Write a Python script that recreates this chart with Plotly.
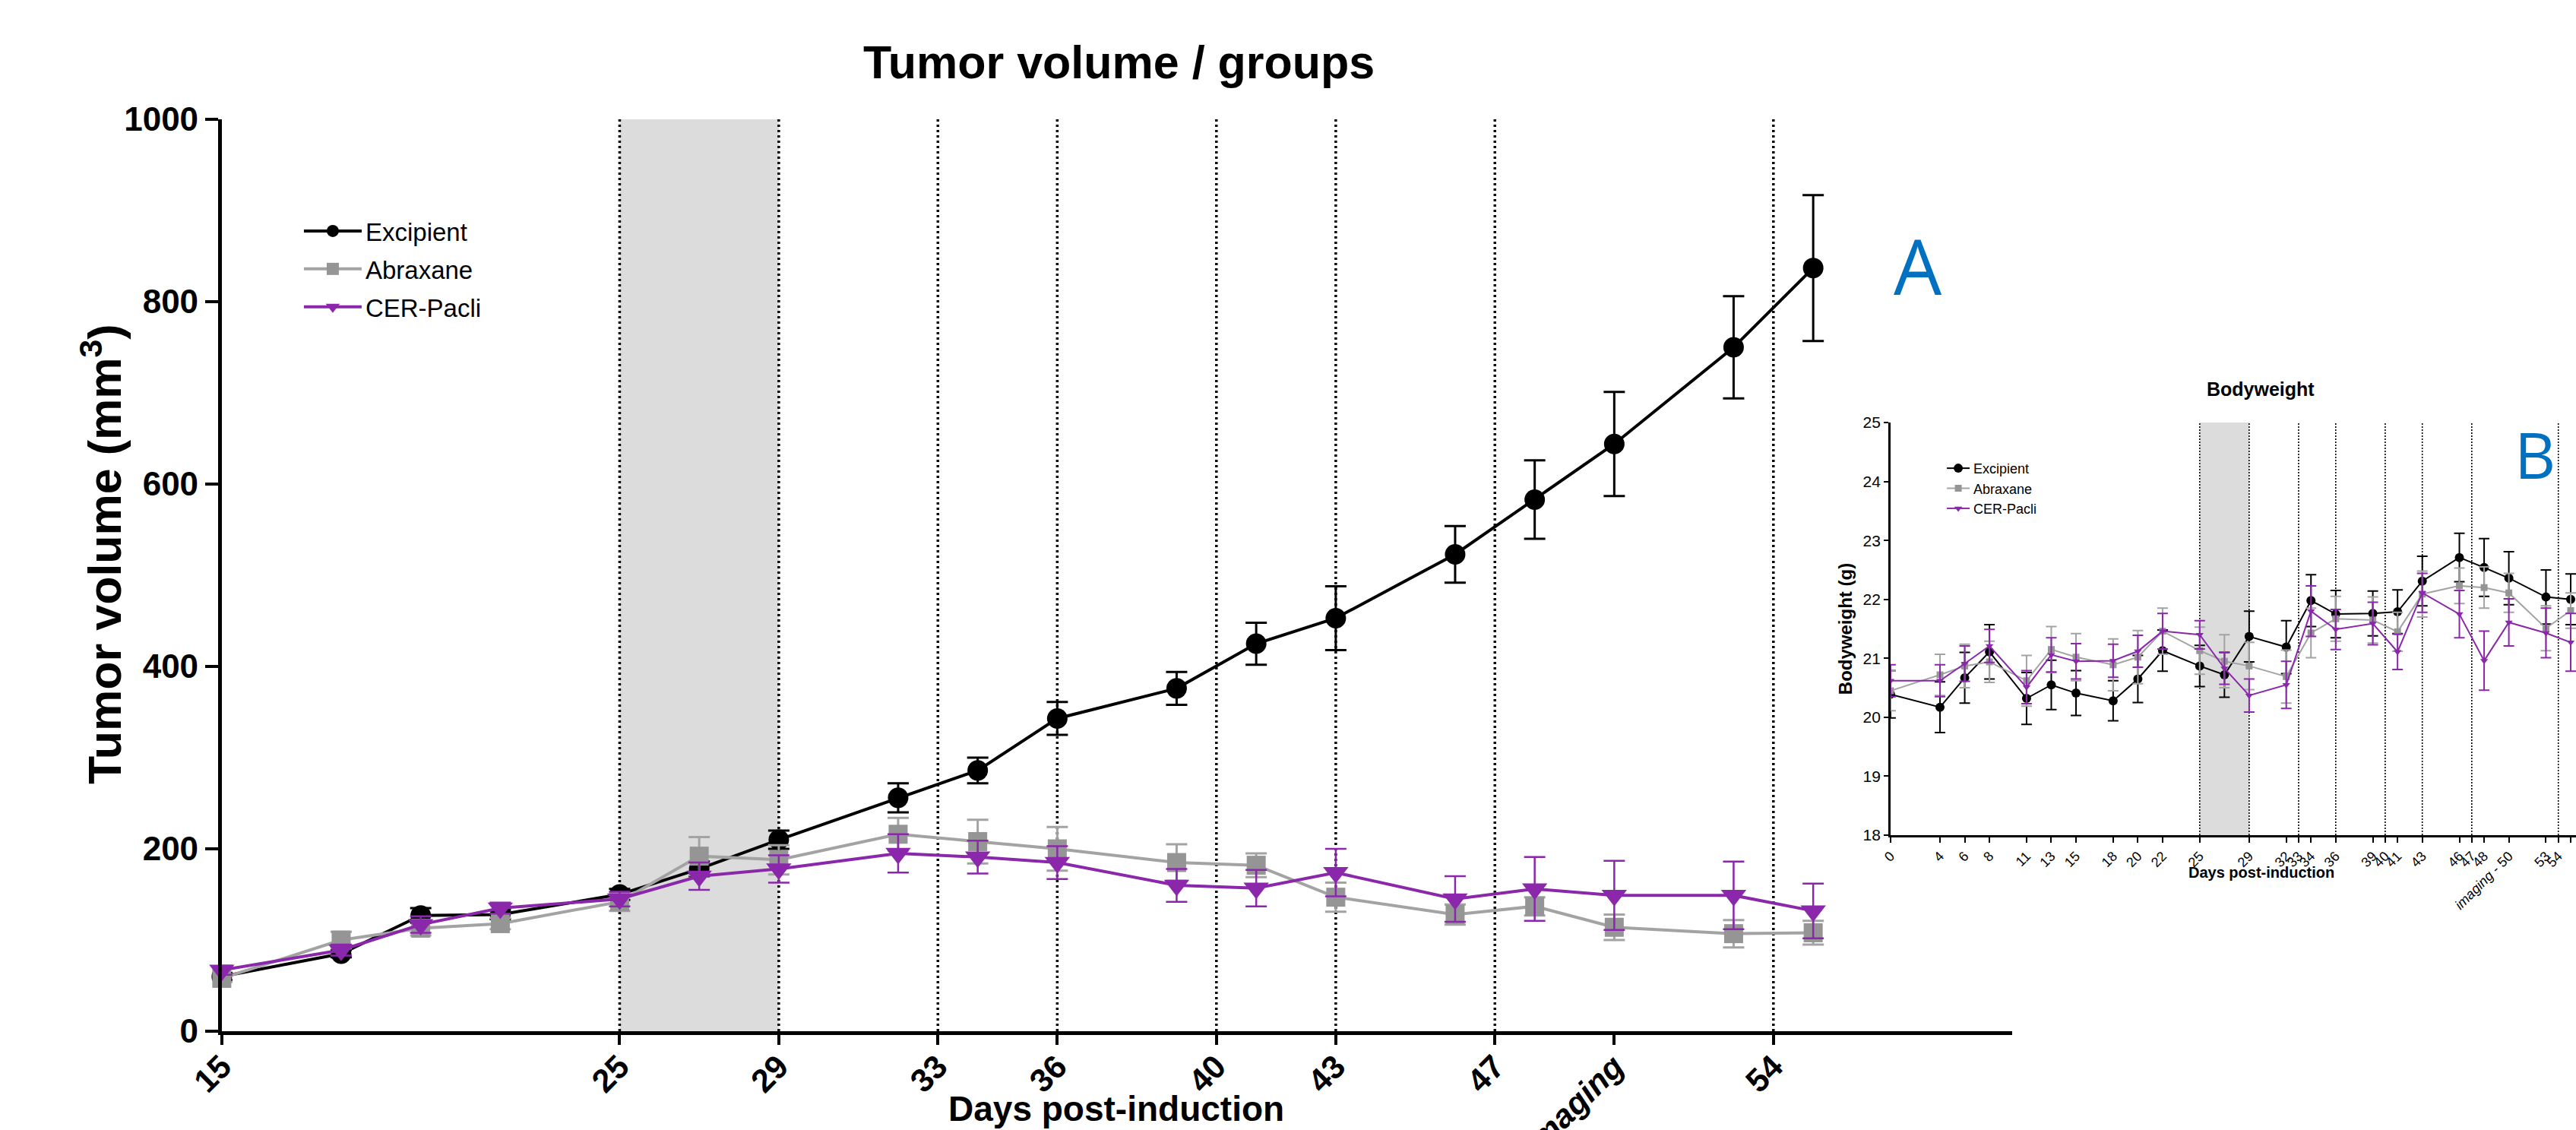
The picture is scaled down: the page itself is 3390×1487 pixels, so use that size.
import plotly.graph_objects as go

# ---------------- Data: tumour volume (panel A) ----------------
days_tv = [15, 18, 20, 22, 25, 27, 29, 32, 34, 36, 39, 41, 43, 46, 48, 50, 53, 55]
excipient_tv = [60, 85, 127, 128, 150, 178, 210, 256, 286, 343, 376, 425, 453, 523, 583, 644, 750, 837]
excipient_tv_err = [4, 4, 8, 5, 6, 8, 10, 16, 14, 18, 18, 23, 35, 31, 43, 57, 56, 80]
abraxane_tv = [58, 100, 113, 118, 142, 192, 188, 216, 208, 200, 185, 182, 147, 128, 137, 114, 107, 108]
abraxane_tv_err = [4, 9, 8, 6, 10, 21, 16, 18, 24, 24, 20, 13, 16, 11, 10, 14, 15, 13]
cerpacli_tv = [67, 89, 117, 135, 145, 170, 178, 195, 191, 185, 160, 157, 174, 145, 156, 149, 149, 132]
cerpacli_tv_err = [5, 6, 9, 6, 8, 15, 15, 21, 18, 18, 18, 20, 26, 25, 35, 38, 37, 30]

tv_tick_vals = [15, 25, 29, 33, 36, 40, 43, 47, 50, 54]
tv_tick_text = ["15", "25", "29", "33", "36", "40", "43", "47", "<i>imaging</i>", "54"]
tv_y_ticks = [0, 200, 400, 600, 800, 1000]

# ---------------- Data: bodyweight (panel B) ----------------
days_bw = [0, 4, 6, 8, 11, 13, 15, 18, 20, 22, 25, 27, 29, 32, 34, 36, 39, 41, 43, 46, 48, 50, 53, 55]
excipient_bw = [20.39, 20.17, 20.67, 21.11, 20.32, 20.55, 20.41, 20.28, 20.65, 21.13, 20.87, 20.72,
                21.37, 21.19, 21.98, 21.75, 21.76, 21.79, 22.31, 22.71, 22.54, 22.36, 22.04, 22.00]
excipient_bw_err = [0.40, 0.43, 0.43, 0.46, 0.44, 0.42, 0.38, 0.34, 0.40, 0.35, 0.35, 0.38,
                    0.43, 0.45, 0.44, 0.40, 0.38, 0.37, 0.42, 0.41, 0.49, 0.45, 0.46, 0.43]
abraxane_bw = [20.45, 20.72, 20.87, 20.94, 20.62, 21.15, 21.02, 20.89, 21.02, 21.46, 21.13, 20.95,
               20.87, 20.69, 21.43, 21.67, 21.65, 21.45, 22.09, 22.23, 22.20, 22.11, 21.51, 21.81]
abraxane_bw_err = [0.34, 0.35, 0.37, 0.35, 0.43, 0.39, 0.40, 0.44, 0.45, 0.39, 0.40, 0.45,
                   0.40, 0.45, 0.42, 0.38, 0.39, 0.33, 0.39, 0.30, 0.35, 0.33, 0.38, 0.30]
cerpacli_bw = [20.62, 20.62, 20.91, 21.21, 20.51, 21.06, 20.95, 20.96, 21.12, 21.46, 21.40, 20.83,
               20.37, 20.55, 21.80, 21.49, 21.59, 21.11, 22.11, 21.75, 20.96, 21.61, 21.43, 21.27]
cerpacli_bw_err = [0.27, 0.27, 0.30, 0.28, 0.28, 0.29, 0.30, 0.28, 0.27, 0.30, 0.24, 0.27,
                   0.28, 0.40, 0.43, 0.34, 0.36, 0.30, 0.33, 0.40, 0.50, 0.40, 0.42, 0.49]

bw_tick_vals = [0, 4, 6, 8, 11, 13, 15, 18, 20, 22, 25, 29, 32, 33, 34, 36, 39, 40, 41, 43,
                46, 47, 48, 50, 53, 54, 55]
bw_tick_text = ["0", "4", "6", "8", "11", "13", "15", "18", "20", "22", "25", "29", "32", "33",
                "34", "36", "39", "40", "41", "43", "46", "47", "48", "<i>imaging</i> - 50",
                "53", "54", "55"]
bw_y_ticks = [18, 19, 20, 21, 22, 23, 24, 25]

# treatment markers (dotted lines) and treatment period (shaded)
treatment_days = [25, 29, 33, 36, 40, 43, 47, 54]
shaded_period = [25, 29]

BLACK = "#000000"
GREY = "#959595"
GREY_LINE = "#a3a3a3"
PURPLE = "#8a27ab"
FONT = "Liberation Sans"

fig = go.Figure()

# ---- panel A traces ----
fig.add_trace(go.Scatter(
    x=days_tv, y=excipient_tv, name="Excipient", mode="lines+markers",
    line=dict(color=BLACK, width=4), marker=dict(symbol="circle", size=27, color=BLACK),
    error_y=dict(type="data", array=excipient_tv_err, color=BLACK, thickness=3, width=14),
    xaxis="x", yaxis="y", legend="legend", legendgroup="a1", cliponaxis=False))
fig.add_trace(go.Scatter(
    x=days_tv, y=abraxane_tv, name="Abraxane", mode="lines+markers",
    line=dict(color=GREY_LINE, width=4), marker=dict(symbol="square", size=25, color=GREY),
    error_y=dict(type="data", array=abraxane_tv_err, color=GREY_LINE, thickness=3, width=14),
    xaxis="x", yaxis="y", legend="legend", legendgroup="a2", cliponaxis=False))
fig.add_trace(go.Scatter(
    x=days_tv, y=cerpacli_tv, name="CER-Pacli", mode="lines+markers",
    line=dict(color=PURPLE, width=4), marker=dict(symbol="triangle-down", size=29, color=PURPLE),
    error_y=dict(type="data", array=cerpacli_tv_err, color=PURPLE, thickness=2.5, width=14),
    xaxis="x", yaxis="y", legend="legend", legendgroup="a3", cliponaxis=False))

# ---- panel B traces ----
fig.add_trace(go.Scatter(
    x=days_bw, y=excipient_bw, name="Excipient", mode="lines+markers",
    line=dict(color=BLACK, width=2), marker=dict(symbol="circle", size=12, color=BLACK),
    error_y=dict(type="data", array=excipient_bw_err, color=BLACK, thickness=2, width=7),
    xaxis="x2", yaxis="y2", legend="legend2"))
fig.add_trace(go.Scatter(
    x=days_bw, y=abraxane_bw, name="Abraxane", mode="lines+markers",
    line=dict(color=GREY_LINE, width=2), marker=dict(symbol="square", size=9, color=GREY),
    error_y=dict(type="data", array=abraxane_bw_err, color=GREY_LINE, thickness=2, width=7),
    xaxis="x2", yaxis="y2", legend="legend2"))
fig.add_trace(go.Scatter(
    x=days_bw, y=cerpacli_bw, name="CER-Pacli", mode="lines+markers",
    line=dict(color=PURPLE, width=2), marker=dict(symbol="triangle-down", size=9, color=PURPLE),
    error_y=dict(type="data", array=cerpacli_bw_err, color=PURPLE, thickness=2, width=7),
    xaxis="x2", yaxis="y2", legend="legend2"))

shapes = []
for xr, yr, w, dash in [("x", "y domain", 3.5, "3px,4px"), ("x2", "y2 domain", 1.6, "2px,2px")]:
    shapes.append(dict(type="rect", xref=xr, yref=yr, x0=shaded_period[0], x1=shaded_period[1],
                       y0=0, y1=1, fillcolor="#dcdcdc", line=dict(width=0), layer="below"))
    for d in treatment_days:
        shapes.append(dict(type="line", xref=xr, yref=yr, x0=d, x1=d, y0=0, y1=1,
                           line=dict(color=BLACK, width=w, dash=dash), layer="below"))

annotations = [
    dict(text="<b>Tumor volume / groups</b>", x=0.4345, y=0.9449, xref="paper", yref="paper",
         showarrow=False, xanchor="center", yanchor="middle",
         font=dict(family=FONT, size=61, color=BLACK)),
    dict(text="<b>Tumor volume (mm<sup>3</sup>)</b>", x=0.0395, y=0.5097, xref="paper",
         yref="paper", textangle=-90, showarrow=False, xanchor="center", yanchor="middle",
         font=dict(family=FONT, size=61, color=BLACK)),
    dict(text="<b>Days post-induction</b>", x=0.4333, y=0.0185, xref="paper", yref="paper",
         showarrow=False, xanchor="center", yanchor="middle",
         font=dict(family=FONT, size=46, color=BLACK)),
    dict(text="<b>Bodyweight</b>", x=0.8776, y=0.6557, xref="paper", yref="paper",
         showarrow=False, xanchor="center", yanchor="middle",
         font=dict(family=FONT, size=25, color=BLACK)),
    dict(text="<b>Days post-induction</b>", x=0.8779, y=0.228, xref="paper", yref="paper",
         showarrow=False, xanchor="center", yanchor="middle",
         font=dict(family=FONT, size=20, color=BLACK)),
    dict(text="A", x=0.7445, y=0.7653, xref="paper", yref="paper",
         showarrow=False, xanchor="center", yanchor="middle",
         font=dict(family="Open Sans", size=100, color="#0070c0")),
    dict(text="B", x=0.9841, y=0.5985, xref="paper", yref="paper",
         showarrow=False, xanchor="center", yanchor="middle",
         font=dict(family="Open Sans", size=84, color="#0070c0")),
]

axis_common = dict(showgrid=False, zeroline=False, showline=True, linecolor=BLACK,
                   ticks="outside", tickcolor=BLACK, automargin=False)

fig.update_layout(
    template="none",
    width=3390, height=1487, autosize=False,
    margin=dict(l=0, r=0, t=0, b=0, pad=0, autoexpand=False),
    paper_bgcolor="white", plot_bgcolor="rgba(0,0,0,0)",
    font=dict(family=FONT, color=BLACK),
    showlegend=True,
    xaxis=dict(**axis_common, domain=[0.0861, 0.7811], range=[15, 60], anchor="y",
               tickmode="array", tickvals=tv_tick_vals, ticktext=tv_tick_text, tickangle=-45,
               ticklen=13, tickwidth=4, linewidth=5, ticklabelstandoff=-14,
               tickfont=dict(family=FONT, size=43, color=BLACK, weight="bold")),
    yaxis=dict(**axis_common, domain=[0.0874, 0.8944], range=[0, 1000], anchor="x",
               tickmode="array", tickvals=tv_y_ticks, ticklen=17, tickwidth=4, linewidth=5,
               tickfont=dict(family=FONT, size=44, color=BLACK, weight="bold")),
    xaxis2=dict(**axis_common, domain=[0.7339, 1.0], range=[0, 55.43], anchor="y2",
                tickmode="array", tickvals=bw_tick_vals, ticktext=bw_tick_text, tickangle=-45,
                ticklen=7, tickwidth=2, linewidth=3,
                tickfont=dict(family=FONT, size=18, color=BLACK)),
    yaxis2=dict(**axis_common, domain=[0.2609, 0.6261], range=[18, 25], anchor="x2",
                tickmode="array", tickvals=bw_y_ticks, ticklen=6, tickwidth=2, linewidth=2.5,
                tickfont=dict(family=FONT, size=21, color=BLACK),
                title=dict(text="<b>Bodyweight (g)</b>", standoff=8,
                           font=dict(family=FONT, size=24, color=BLACK))),
    legend=dict(x=0.1165, y=0.8144, xanchor="left", yanchor="top", bgcolor="rgba(0,0,0,0)",
                font=dict(family=FONT, size=33, color=BLACK), tracegroupgap=4, itemwidth=76,
                itemclick=False, itemdoubleclick=False),
    legend2=dict(x=0.7543, y=0.5979, xanchor="left", yanchor="top", bgcolor="rgba(0,0,0,0)",
                 font=dict(family=FONT, size=18, color=BLACK), tracegroupgap=0),
    shapes=shapes,
    annotations=annotations,
)

fig.write_html(
    "out.html",
    config={"displayModeBar": False},
    post_script="document.body.style.margin='0px';document.body.style.overflow='hidden';",
)
